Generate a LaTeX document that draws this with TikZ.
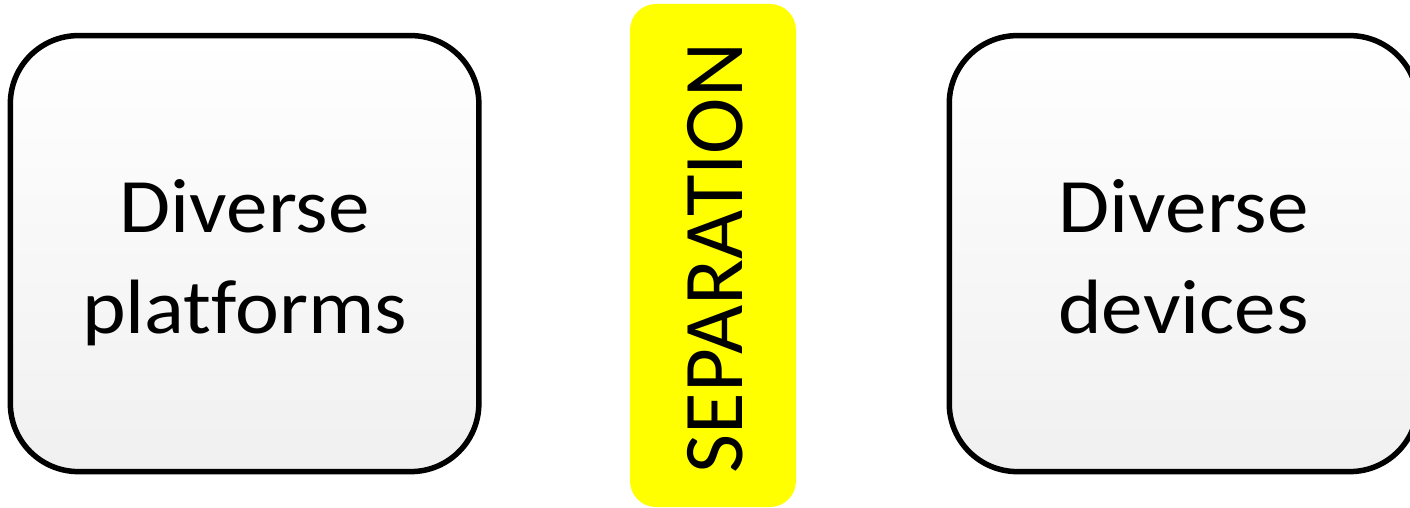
\documentclass[tikz,border=0pt]{standalone}
\usepackage{fontspec}
\setmainfont{Carlito}[Ligatures=NoCommon]
\newfontfamily\boxfont{Carlito}[Ligatures=NoCommon,FakeStretch=1.08]
\usepackage{tikz}
\usetikzlibrary{positioning,shadings}
\usepackage{xcolor}
\definecolor{sepyellow}{RGB}{255,255,0}
\definecolor{boxbottom}{RGB}{240,240,240}

\tikzset{
  sidebox/.style={rectangle,rounded corners=68pt,draw=black,line width=5.5pt,
    top color=white,bottom color=boxbottom,align=center,
    font=\boxfont\fontsize{77}{101}\selectfont,
    text height=160pt,text depth=1pt,
    minimum width=468.5pt,minimum height=436pt,inner sep=0pt},
  sepbar/.style={rectangle,rounded corners=26pt,fill=sepyellow,
    minimum width=166pt,minimum height=503pt,inner sep=0pt}
}

\begin{document}
\begin{tikzpicture}[x=1pt,y=-1pt]
\useasboundingbox (0,0) rectangle (1410,508);
\node[sidebox] (platforms) at (244.6,253.6) {Diverse\\platforms};
\node[sepbar] (separation) at (713,255.5) {};
\node[rotate=90,font=\fontsize{85}{100}\selectfont] (septext) at (715,258) {SEPARATION};
\node[sidebox] (devices) at (1183.5,253.6) {Diverse\\devices};
\end{tikzpicture}
\end{document}
